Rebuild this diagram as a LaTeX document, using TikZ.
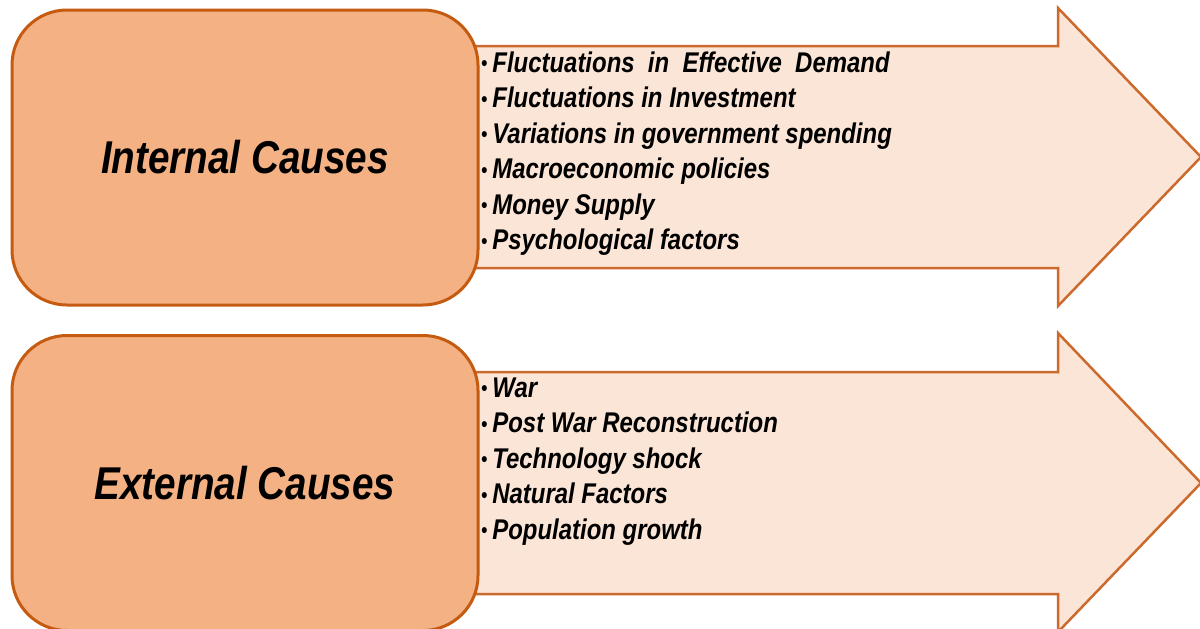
\documentclass[tikz,border=0pt]{standalone}
\usepackage{fontspec}
\setmainfont{Liberation Sans}
\newfontfamily\narrowsans[FakeStretch=0.84]{Liberation Sans}
\definecolor{boxfill}{HTML}{F4B183}
\definecolor{boxline}{HTML}{C55A11}
\definecolor{arrowfill}{HTML}{FBE5D6}
\definecolor{arrowline}{HTML}{CC6A2E}
\newcommand{\dotmark}{{\fontsize{21}{21}\selectfont\raisebox{1.5pt}{•}}\hspace{5pt}}
\begin{document}
\begin{tikzpicture}[x=1pt, y=-1pt]
\def\cause{node [draw=boxline, line width=3pt, fill=boxfill, rounded corners=55pt, minimum width=466pt, minimum height=295pt, font=\narrowsans\bfseries\itshape\fontsize{46}{50}\selectfont] }
\def\bul{node [anchor=base west, inner sep=0, font=\narrowsans\bfseries\itshape\fontsize{28.5}{34}\selectfont] }
\useasboundingbox (0,0) rectangle (1200,629);

\draw [draw=arrowline, line width=2.5pt, fill=arrowfill, line join=miter] (470,46) -- (1058,46) -- (1058,8) -- (1201,157) -- (1058,306) -- (1058,268) -- (470,268) -- cycle;
\draw [draw=arrowline, line width=2.5pt, fill=arrowfill, line join=miter] (470,372) -- (1058,372) -- (1058,333) -- (1201,483) -- (1058,632) -- (1058,594) -- (470,594) -- cycle;

\draw (245,157.5) \cause (internal) {Internal Causes};
\draw (245,483) \cause (external) {External Causes};

\draw (481,72) \bul (i1) {\dotmark Fluctuations\ \ in\ \ Effective\ \ Demand};
\draw (481,107.5) \bul (i2) {\dotmark Fluctuations in Investment};
\draw (481,143) \bul (i3) {\dotmark Variations in government spending};
\draw (481,178.5) \bul (i4) {\dotmark Macroeconomic policies};
\draw (481,214) \bul (i5) {\dotmark Money Supply};
\draw (481,249.5) \bul (i6) {\dotmark Psychological factors};

\draw (481,397) \bul (e1) {\dotmark War};
\draw (481,432.5) \bul (e2) {\dotmark Post War Reconstruction};
\draw (481,468) \bul (e3) {\dotmark Technology shock};
\draw (481,503.5) \bul (e4) {\dotmark Natural Factors};
\draw (481,539) \bul (e5) {\dotmark Population growth};

\end{tikzpicture}
\end{document}
